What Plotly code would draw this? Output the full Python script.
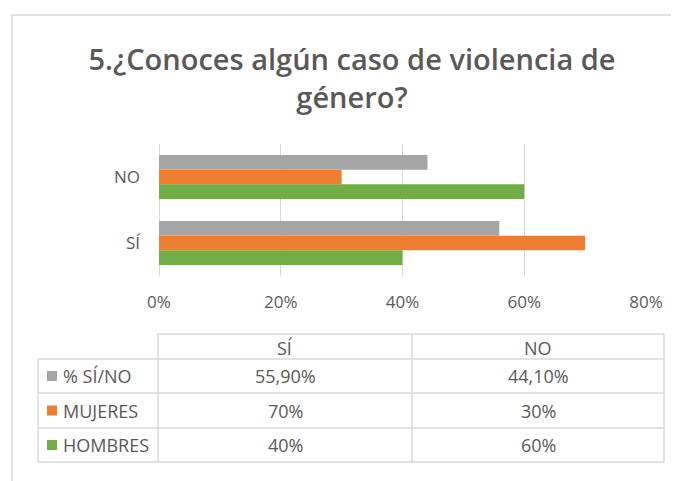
import plotly.graph_objects as go

# ---- data ----
categories = ["SÍ", "NO"]
series_names = ["% SÍ/NO", "MUJERES", "HOMBRES"]
pct_si_no = [0.559, 0.441]
mujeres = [0.70, 0.30]
hombres = [0.40, 0.60]
series_decimals = [2, 0, 0]
x_ticks = [0, 0.2, 0.4, 0.6, 0.8]
x_tick_labels = ["0%", "20%", "40%", "60%", "80%"]
title_text = "5.¿Conoces algún caso de violencia de<br>género?"

colors = ["#A5A5A5", "#ED7D31", "#70AD47"]
series_values = [pct_si_no, mujeres, hombres]

W, H = 679, 481
OX, OY = 8, 8  # page body margin of the browser
FONT = "Open Sans"
TXT = "#595959"
LINE = "#D9D9D9"
TABLE_FS = 18


def px(x):
    return (x - OX) / W


def py(y):
    return 1 - (y - OY) / H


fig = go.Figure()
# add in reverse so grey ends on top of each group
for name, vals, col in reversed(list(zip(series_names, series_values, colors))):
    fig.add_trace(go.Bar(
        y=categories, x=vals, name=name, orientation="h",
        marker=dict(color=col, line=dict(width=0)),
        showlegend=False, hoverinfo="x+name",
    ))

fig.update_layout(
    width=W, height=H,
    margin=dict(l=0, r=0, t=0, b=0, pad=0, autoexpand=False),
    paper_bgcolor="white", plot_bgcolor="white",
    barmode="group", bargap=0.333, bargroupgap=0,
    font=dict(family=FONT, color=TXT),
    title=dict(text=title_text, x=px(352), xanchor="center",
               y=py(70), yanchor="middle", automargin=False,
               font=dict(size=29, color=TXT, family=FONT, weight=600)),
    xaxis=dict(domain=[px(159), px(646)], range=[0, 0.8], automargin=False,
               tickvals=x_ticks, ticktext=x_tick_labels,
               showgrid=True, gridcolor=LINE, gridwidth=1,
               zeroline=True, zerolinecolor=LINE, zerolinewidth=1,
               showline=False, ticks="", ticklabelstandoff=14,
               tickfont=dict(size=17, color=TXT, family=FONT),
               fixedrange=True),
    yaxis=dict(domain=[py(276), py(144)], automargin=False,
               categoryorder="array", categoryarray=categories,
               showgrid=False, showline=False, ticks="",
               ticklabelstandoff=18,
               tickfont=dict(size=17, color=TXT, family=FONT),
               fixedrange=True),
)

shapes = []
# outer chart border (top and left)
shapes.append(dict(type="line", xref="paper", yref="paper",
                   x0=px(12), x1=1.0, y0=py(15), y1=py(15),
                   line=dict(color=LINE, width=1.5)))
shapes.append(dict(type="line", xref="paper", yref="paper",
                   x0=px(12), x1=px(12), y0=py(15), y1=0,
                   line=dict(color=LINE, width=1.5)))

# data table grid
tl, tc1, tc2, tr = 38, 158, 412, 664
hy0, hy1 = 334, 359
row_edges = [359, 393, 428, 462]
lw = dict(color=LINE, width=1.5)
shapes.append(dict(type="line", xref="paper", yref="paper",
                   x0=px(tc1), x1=px(tr), y0=py(hy0), y1=py(hy0), line=lw))
for ry in row_edges:
    shapes.append(dict(type="line", xref="paper", yref="paper",
                       x0=px(tl), x1=px(tr), y0=py(ry), y1=py(ry), line=lw))
shapes.append(dict(type="line", xref="paper", yref="paper",
                   x0=px(tl), x1=px(tl), y0=py(row_edges[0]), y1=py(row_edges[-1]), line=lw))
for vx in (tc1, tc2, tr):
    shapes.append(dict(type="line", xref="paper", yref="paper",
                       x0=px(vx), x1=px(vx), y0=py(hy0), y1=py(row_edges[-1]), line=lw))

annotations = []
col_centers = [(tc1 + tc2) / 2, (tc2 + tr) / 2]
for cat, cx in zip(categories, col_centers):
    annotations.append(dict(text=cat, xref="paper", yref="paper",
                            x=px(cx), y=py((hy0 + hy1) / 2 + 1),
                            xanchor="center", yanchor="middle", showarrow=False,
                            font=dict(size=TABLE_FS, color=TXT, family=FONT)))

for i, (name, vals, col, dec) in enumerate(zip(series_names, series_values, colors, series_decimals)):
    cy = (row_edges[i] + row_edges[i + 1]) / 2
    shapes.append(dict(type="rect", xref="paper", yref="paper",
                       x0=px(47), x1=px(57), y0=py(cy + 5), y1=py(cy - 5),
                       fillcolor=col, line=dict(width=0)))
    annotations.append(dict(text=name, xref="paper", yref="paper",
                            x=px(61), y=py(cy), xanchor="left", yanchor="middle",
                            showarrow=False,
                            font=dict(size=TABLE_FS, color=TXT, family=FONT)))
    for v, cx in zip(vals, col_centers):
        label = f"{v * 100:.{dec}f}%".replace(".", ",")
        annotations.append(dict(text=label, xref="paper", yref="paper",
                                x=px(cx), y=py(cy), xanchor="center", yanchor="middle",
                                showarrow=False,
                                font=dict(size=TABLE_FS, color=TXT, family=FONT)))

fig.update_layout(shapes=shapes, annotations=annotations)
fig.write_html("out.html")
